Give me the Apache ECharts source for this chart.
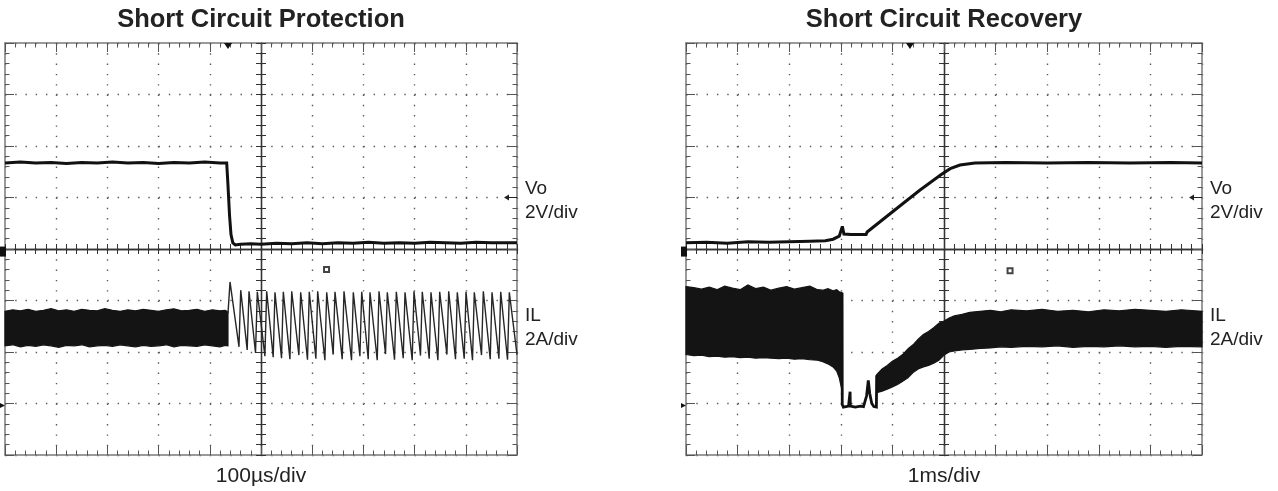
<!DOCTYPE html>
<html><head><meta charset="utf-8">
<script src="https://cdn.jsdelivr.net/npm/echarts@6/dist/echarts.min.js"></script>
<style>html,body{margin:0;padding:0;background:#fff}#c{width:1278px;height:491px}</style>
</head><body><div id="c"></div>
<script>
// All trace values are in screen divisions: x from -5 to 5, y from -4 to 4 (centre = 0)
const panelTitles = ['Short Circuit Protection', 'Short Circuit Recovery'];
const timeScales = ['100\u00B5s/div', '1ms/div'];
const voLabel = 'Vo\n2V/div';
const ilLabel = 'IL\n2A/div';

// ---- Short Circuit Protection ----
const protVo = [[-5,1.67],[-4.7,1.69],[-4.4,1.67],[-4.1,1.68],[-3.8,1.66],[-3.5,1.68],[-3.2,1.67],[-2.9,1.69],[-2.6,1.67],[-2.3,1.68],[-2.0,1.66],[-1.7,1.68],[-1.4,1.67],[-1.1,1.69],[-0.8,1.67],[-0.67,1.67],[-0.645,1.24],[-0.615,0.66],[-0.586,0.28],[-0.55,0.12],[-0.5,0.08],[-0.4,0.09],[-0.2,0.10],[0,0.09],[0.3,0.11],[0.6,0.10],[0.9,0.12],[1.2,0.10],[1.5,0.12],[1.8,0.11],[2.1,0.13],[2.4,0.11],[2.7,0.12],[3.0,0.11],[3.3,0.13],[3.6,0.12],[3.9,0.11],[4.2,0.13],[4.5,0.12],[4.8,0.12],[5,0.12]];
const protBandX    = [-5,-4.85,-4.7,-4.55,-4.4,-4.25,-4.1,-3.95,-3.8,-3.65,-3.5,-3.35,-3.2,-3.05,-2.9,-2.75,-2.6,-2.45,-2.3,-2.15,-2,-1.85,-1.7,-1.55,-1.4,-1.25,-1.1,-0.95,-0.8,-0.7,-0.645];
const protBandHigh = [-1.21,-1.18,-1.20,-1.17,-1.21,-1.19,-1.16,-1.20,-1.18,-1.21,-1.17,-1.19,-1.20,-1.16,-1.19,-1.21,-1.18,-1.20,-1.17,-1.19,-1.21,-1.18,-1.16,-1.20,-1.19,-1.17,-1.21,-1.18,-1.20,-1.19,-1.22];
const protBandLow  = [-1.88,-1.86,-1.90,-1.87,-1.89,-1.86,-1.88,-1.91,-1.87,-1.88,-1.86,-1.90,-1.88,-1.87,-1.89,-1.86,-1.88,-1.90,-1.87,-1.89,-1.88,-1.86,-1.90,-1.87,-1.88,-1.89,-1.86,-1.88,-1.90,-1.87,-1.88];
const protIL = [[-0.645,-1.25],[-0.605,-0.64],[-0.43,-1.90],[-0.396,-0.80],[-0.27,-1.96],[-0.234,-0.82],[-0.107,-2.02],[-0.072,-0.83],[0.076,-2.08],[0.111,-0.82],[0.238,-2.10],[0.273,-0.84],[0.401,-2.12],[0.436,-0.83],[0.565,-2.14],[0.600,-0.82],[0.740,-2.06],[0.775,-0.84],[0.908,-2.15],[0.943,-0.83],[1.072,-2.13],[1.107,-0.82],[1.248,-2.16],[1.283,-0.84],[1.410,-2.05],[1.445,-0.83],[1.586,-2.14],[1.621,-0.82],[1.768,-2.16],[1.803,-0.84],[1.932,-2.08],[1.967,-0.83],[2.094,-2.14],[2.129,-0.84],[2.270,-2.16],[2.305,-0.82],[2.432,-2.04],[2.467,-0.84],[2.608,-2.15],[2.643,-0.83],[2.778,-2.12],[2.813,-0.84],[2.953,-2.16],[2.988,-0.82],[3.115,-2.07],[3.150,-0.83],[3.285,-2.13],[3.320,-0.84],[3.455,-2.16],[3.490,-0.83],[3.631,-2.05],[3.666,-0.82],[3.799,-2.14],[3.834,-0.84],[3.969,-2.13],[4.004,-0.83],[4.131,-2.16],[4.166,-0.84],[4.307,-2.06],[4.342,-0.82],[4.477,-2.14],[4.512,-0.84],[4.647,-2.13],[4.682,-0.83],[4.815,-2.15],[4.850,-0.84],[5.0,-2.05]];

// ---- Short Circuit Recovery ----
const recVo = [[-5,0.12],[-4.6,0.13],[-4.2,0.11],[-3.8,0.14],[-3.4,0.13],[-3.0,0.14],[-2.6,0.15],[-2.3,0.16],[-2.15,0.19],[-2.03,0.25],[-1.97,0.44],[-1.94,0.29],[-1.80,0.28],[-1.60,0.28],[-1.51,0.28],[-1.49,0.33],[-1.24,0.53],[-0.85,0.84],[-0.47,1.14],[-0.06,1.44],[0.12,1.56],[0.31,1.63],[0.6,1.67],[1.2,1.68],[2.0,1.67],[2.8,1.68],[3.6,1.67],[4.4,1.68],[5,1.67]];
const recBandAX    = [-5,-4.85,-4.7,-4.55,-4.4,-4.25,-4.1,-3.95,-3.8,-3.65,-3.5,-3.35,-3.2,-3.05,-2.9,-2.75,-2.6,-2.45,-2.35,-2.25,-2.15,-2.08,-2.03,-1.975];
const recBandAHigh = [-0.73,-0.75,-0.78,-0.74,-0.79,-0.72,-0.76,-0.79,-0.70,-0.77,-0.74,-0.80,-0.76,-0.73,-0.78,-0.75,-0.72,-0.79,-0.80,-0.77,-0.81,-0.79,-0.83,-0.85];
const recBandALow  = [-2.05,-2.07,-2.06,-2.09,-2.08,-2.10,-2.09,-2.11,-2.10,-2.12,-2.11,-2.12,-2.13,-2.12,-2.14,-2.13,-2.15,-2.16,-2.19,-2.23,-2.29,-2.37,-2.50,-2.75];
const recILDrop = [[-1.975,-0.85],[-1.972,-3.02],[-1.95,-3.07],[-1.85,-3.05],[-1.825,-3.06],[-1.82,-2.77],[-1.815,-3.05],[-1.72,-3.07],[-1.62,-3.05],[-1.56,-3.06],[-1.50,-2.85],[-1.467,-2.55],[-1.44,-2.80],[-1.40,-3.00],[-1.36,-3.06],[-1.31,-3.07],[-1.305,-2.45]];
const recBandBX    = [-1.305,-1.2,-1.1,-1.0,-0.9,-0.8,-0.7,-0.6,-0.5,-0.4,-0.3,-0.2,-0.1,0,0.1,0.2,0.35,0.5,0.7,0.9,1.1,1.3,1.6,1.9,2.2,2.5,2.8,3.1,3.4,3.7,4.0,4.3,4.6,5.0];
const recBandBHigh = [-2.44,-2.33,-2.26,-2.18,-2.12,-2.05,-1.94,-1.86,-1.75,-1.66,-1.60,-1.53,-1.44,-1.40,-1.34,-1.30,-1.27,-1.23,-1.21,-1.19,-1.22,-1.18,-1.20,-1.17,-1.21,-1.19,-1.22,-1.18,-1.20,-1.17,-1.19,-1.21,-1.18,-1.21];
const recBandBLow  = [-2.79,-2.76,-2.72,-2.68,-2.63,-2.57,-2.50,-2.40,-2.33,-2.29,-2.26,-2.22,-2.16,-2.06,-2.00,-1.98,-1.96,-1.95,-1.93,-1.92,-1.90,-1.91,-1.89,-1.90,-1.88,-1.91,-1.89,-1.90,-1.88,-1.90,-1.89,-1.91,-1.89,-1.90];

// ---- scope markers ----
const triggerX = [-0.645, -0.66];
const triggerLevel = 1.0;
const cursorMark = [[1.28,-0.40],[1.28,-0.42]];
const ch1Ground = -0.05;
const ch2Ground = -3.04;

const FONT = '"Liberation Sans", Arial, Helvetica, sans-serif';
const grids = [
  {left:5, top:43, width:512, height:412, containLabel:false, outerBoundsMode:'none'},
  {left:686, top:43, width:516, height:412, containLabel:false, outerBoundsMode:'none'}
];

function mkAxis(dim, g, pos, kind) {
  const a = {
    type:'value', gridIndex:g, position:pos,
    min: dim==='x' ? -5 : -4, max: dim==='x' ? 5 : 4, interval:1,
    axisLabel:{show:false}, splitLine:{show:false},
    axisLine:{show:true, onZero:false, lineStyle:{color:'#7a7a7a', width:1.5}},
    axisTick:{show:true, inside:true, length:9, lineStyle:{color:'#555', width:1}},
    minorTick:{show:true, splitNumber:5, length:4.5, lineStyle:{color:'#555', width:1}},
    minorSplitLine:{show:false}
  };
  if (kind === 'center') {
    a.axisLine = {show:true, onZero:true, onZeroAxisIndex:4*g, lineStyle:{color:'#333', width:1.3}};
    a.axisTick = {show:true, inside:false, length:5, lineStyle:{color:'#333', width:1}};
    a.minorTick = {show:true, splitNumber:5, length:5, lineStyle:{color:'#333', width:1}};
  }
  if (kind === 'main') {
    const gr = grids[g];
    const step = dim==='x' ? gr.height/40 : gr.width/50;
    a.splitLine = {show:true, lineStyle:{color:'#5a5a5a', width:1.4, type:[1.4, step-1.4]}};
  }
  return a;
}

const xAxes = [], yAxes = [];
for (let g = 0; g < 2; g++) {
  xAxes.push(mkAxis('x', g, 'bottom', 'main'), mkAxis('x', g, 'top', 'border'),
             mkAxis('x', g, 'bottom', 'center'), mkAxis('x', g, 'top', 'center'));
  yAxes.push(mkAxis('y', g, 'left', 'main'), mkAxis('y', g, 'right', 'border'),
             mkAxis('y', g, 'left', 'center'), mkAxis('y', g, 'right', 'center'));
}

function lineS(g, data, color, width, extra) {
  return Object.assign({
    type:'line', xAxisIndex:4*g, yAxisIndex:4*g, data:data,
    symbol:'none', showSymbol:false, smooth:false, z:5,
    lineStyle:{color:color, width:width, join:'miter', miterLimit:4}
  }, extra || {});
}
// ripple band drawn as one filled polygon: upper envelope forwards, lower envelope backwards
function bandS(g, xs, low, high) {
  return {
    type:'custom', xAxisIndex:4*g, yAxisIndex:4*g, z:4, silent:true,
    data: xs.map((x,i)=>[x, low[i], high[i]]),
    encode:{x:0, y:[1,2]},
    renderItem: function (params, api) {
      if (params.dataIndex !== 0) return null;
      const pts = [];
      for (let i = 0; i < xs.length; i++) pts.push(api.coord([xs[i], high[i]]));
      for (let i = xs.length - 1; i >= 0; i--) pts.push(api.coord([xs[i], low[i]]));
      return {type:'polygon', shape:{points:pts}, style:{fill:'#141414', stroke:'#141414', lineWidth:1.2}};
    }
  };
}
function voMarks(g) {
  return {markPoint:{silent:true, animation:false, label:{show:false}, data:[
    {coord:[triggerX[g], 4], symbol:'triangle', symbolSize:[8,6], symbolRotate:180, symbolOffset:[0,3], itemStyle:{color:'#111'}},
    {coord:[5, triggerLevel], symbol:'path://M0,3 L5,0 L5,2.4 L13,2.4 L13,3.6 L5,3.6 L5,6 Z', symbolSize:[13,6], symbolOffset:[-6.5,0], itemStyle:{color:'#222'}},
    {coord:[-5, ch1Ground], symbol:'rect', symbolSize:[6,10], symbolOffset:[-2,0], itemStyle:{color:'#111'}}
  ]}};
}
function ilMarks(g) {
  return {markPoint:{silent:true, animation:false, label:{show:false}, data:[
    {coord:cursorMark[g], symbol:'emptyRect', symbolSize:5, itemStyle:{color:'#444', borderColor:'#444', borderWidth:1}},
    {coord:[-5, ch2Ground], symbol:'triangle', symbolSize:[5,5], symbolRotate:-90, symbolOffset:[-2.5,0], itemStyle:{color:'#111'}}
  ]}};
}

const series = [
  lineS(0, protVo, '#111', 3, voMarks(0)),
  bandS(0, protBandX, protBandLow, protBandHigh),
  lineS(0, protIL, '#262626', 1.4, ilMarks(0)),
  lineS(1, recVo, '#111', 3, voMarks(1)),
  bandS(1, recBandAX, recBandALow, recBandAHigh),
  lineS(1, recILDrop, '#111', 2.8, ilMarks(1)),
  bandS(1, recBandBX, recBandBLow, recBandBHigh)
];

const centers = [grids[0].left + grids[0].width/2, grids[1].left + grids[1].width/2];
const rightEdges = [grids[0].left + grids[0].width, grids[1].left + grids[1].width];
function txt(x, y, text, size, weight, va, lh) {
  return {type:'text', x:x, y:y, z:100, silent:true, style:{
    text:text, font: weight + ' ' + size + 'px ' + FONT, fill:'#222',
    align: va==='top' ? 'left' : 'center', textAlign: va==='top' ? 'left' : 'center',
    verticalAlign: va, textVerticalAlign: va, lineHeight: lh || size
  }};
}
const graphic = [];
for (let g = 0; g < 2; g++) {
  graphic.push(txt(centers[g], 19.5, panelTitles[g], 25.5, 'bold', 'middle'));
  graphic.push(txt(centers[g], 476.5, timeScales[g], 21, 'normal', 'middle'));
  graphic.push(txt(rightEdges[g] + 8, 177, voLabel, 19, 'normal', 'top', 24));
  graphic.push(txt(rightEdges[g] + 8, 303.5, ilLabel, 19, 'normal', 'top', 24));
}

const chart = echarts.init(document.getElementById('c'), null, {renderer:'canvas'});
chart.setOption({
  animation:false,
  backgroundColor:'#fff',
  grid: grids,
  xAxis: xAxes,
  yAxis: yAxes,
  series: series,
  graphic: graphic
});
</script></body></html>
